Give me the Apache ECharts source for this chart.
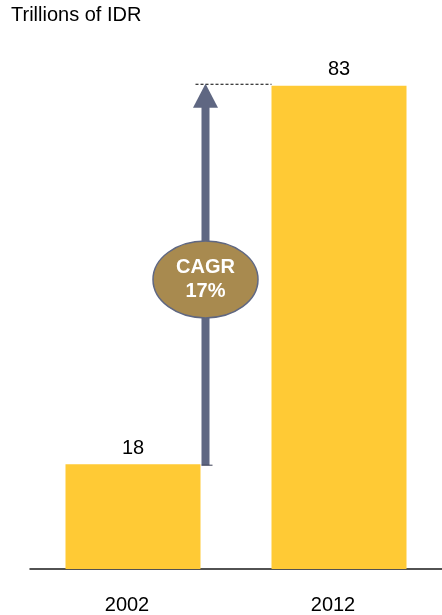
<!DOCTYPE html>
<html><head><meta charset="utf-8">
<script src="https://cdn.jsdelivr.net/npm/echarts@6/dist/echarts.min.js"></script>
<style>html,body{margin:0;padding:0;background:#fff}#c{width:442px;height:615px}</style>
</head><body><div id="c"></div>
<script>
const unitTitle = 'Trillions of IDR';
const categories = ['2002', '2012'];
const values = [18, 83];
const cagrLines = ['CAGR', '17%'];

const FONT = '"Liberation Sans", Arial, sans-serif';
const BAR_W = 135;
const chart = echarts.init(document.getElementById('c'), null, {renderer: 'canvas'});
chart.setOption({
  animation: false,
  backgroundColor: '#ffffff',
  title: {
    text: unitTitle, left: 11, top: 5, padding: 0,
    textStyle: {fontFamily: FONT, fontSize: 20, fontWeight: 'normal', color: '#000'}
  },
  grid: {left: 30, right: 0, top: 45, bottom: 46},
  xAxis: {
    type: 'category', data: categories,
    axisLine: {show: true, lineStyle: {color: '#1a1a1a', width: 1.5}},
    axisTick: {show: false},
    axisLabel: {fontFamily: FONT, fontSize: 20, color: '#000', margin: 26, padding: [0, 12, 0, 0]}
  },
  yAxis: {type: 'value', min: 0, max: 90, show: false, splitLine: {show: false}},
  series: [{
    type: 'bar', data: values, barWidth: BAR_W,
    itemStyle: {color: '#FFCA35'},
    label: {show: true, position: 'top', distance: 6, fontFamily: FONT, fontSize: 20, color: '#000'}
  }]
});

// Annotation: arrow from the 2002 bar top to the 2012 bar level, positioned from data
const p0 = chart.convertToPixel({seriesIndex: 0}, [0, values[0]]);
const p1 = chart.convertToPixel({seriesIndex: 0}, [1, values[1]]);
const ax = p0[0] + BAR_W / 2 + 5;         // arrow x, just right of the first bar
const yBot = p0[1] + 1;
const yTop = p1[1] - 2;
const headH = 24, headHalf = 12.5, shaftW = 8;
const bar2Left = p1[0] - BAR_W / 2;
const cy = (yBot + yTop) / 2 + 5;
const arrowColor = '#5F6782';

chart.setOption({
  graphic: [
    {type: 'line', shape: {x1: ax - 10, y1: yTop + 0.5, x2: bar2Left, y2: yTop + 0.5},
     style: {stroke: '#000', lineWidth: 1, lineDash: [3, 2]}, z: 10},
    {type: 'rect', shape: {x: ax - shaftW / 2, y: yTop + headH - 1, width: shaftW, height: yBot - yTop - headH + 1},
     style: {fill: arrowColor}, z: 10},
    {type: 'line', shape: {x1: ax - shaftW / 2, y1: yBot, x2: ax + shaftW / 2 + 3, y2: yBot},
     style: {stroke: '#3a3f55', lineWidth: 1}, z: 10},
    {type: 'polygon', shape: {points: [[ax, yTop], [ax - headHalf, yTop + headH], [ax + headHalf, yTop + headH]]},
     style: {fill: arrowColor}, z: 10},
    {type: 'ellipse', shape: {cx: ax, cy: cy, rx: 52.5, ry: 38.5},
     style: {fill: '#A88A4F', stroke: '#5F6782', lineWidth: 1.5}, z: 11},
    {type: 'text', x: ax, y: cy, z: 12,
     style: {text: cagrLines.join('\n'), fill: '#fff', font: 'bold 20px ' + FONT,
             align: 'center', verticalAlign: 'middle', lineHeight: 24}}
  ]
});
</script>
</body></html>
